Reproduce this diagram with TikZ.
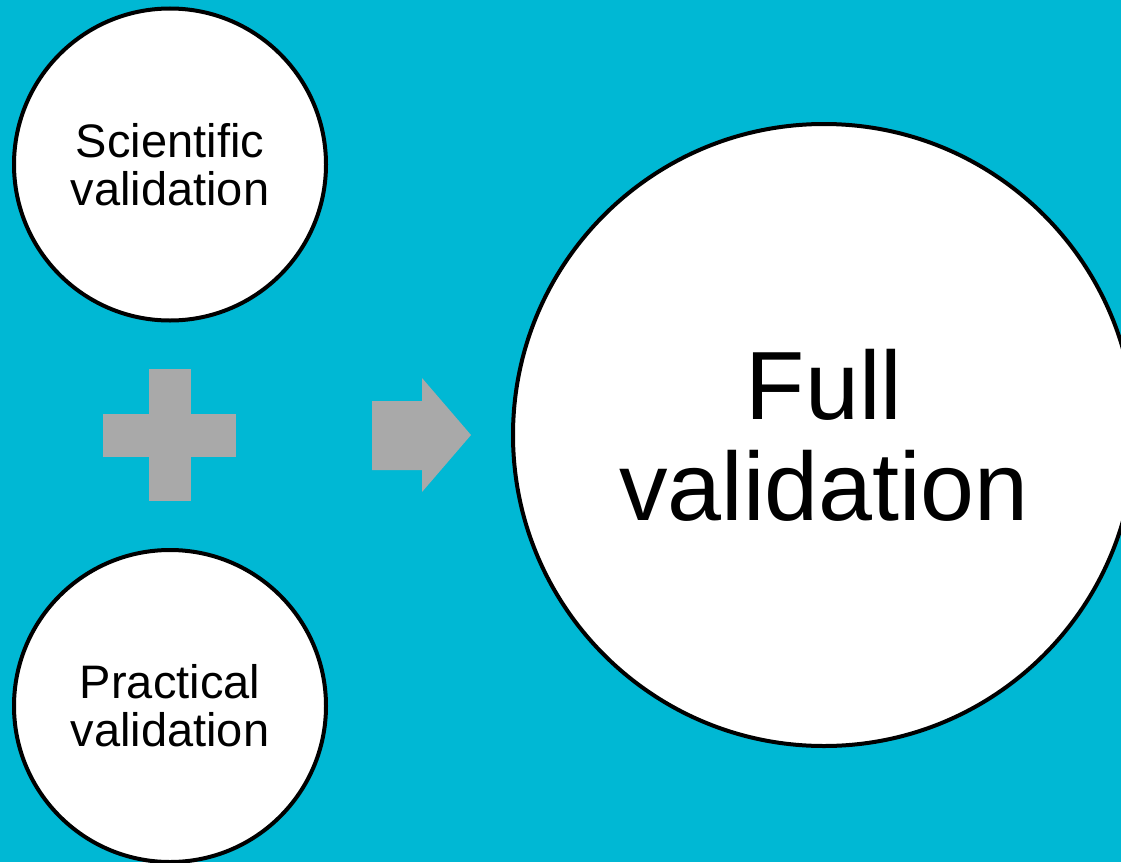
\documentclass[tikz,border=0pt]{standalone}
\usepackage{fontspec}
\setmainfont{Liberation Sans}
\definecolor{bgcyan}{RGB}{0,184,212}
\definecolor{signgray}{RGB}{169,169,169}

\begin{document}
\begin{tikzpicture}[x=1pt,y=-1pt,
    part/.style={circle, draw=black, line width=4pt, fill=white, minimum size=312pt, inner sep=0pt, align=center, font=\fontsize{47}{48}\selectfont},
    whole/.style={part, minimum size=622pt, font=\fontsize{97}{101}\selectfont}]
    \useasboundingbox (0,0) rectangle (1121,862);
    \fill[bgcyan] (0,0) rectangle (1121,862);

    \node[part] (sci) at (170,164.5) {Scientific\\validation};
    \node[part] (prac) at (170,706) {Practical\\validation};
    \node[whole] (full) at (824,435) {Full\\validation};

    \fill[signgray] (149,369) rectangle (191,501);
    \fill[signgray] (103,414) rectangle (236,457);
    \fill[signgray] (372,401) -- (422,401) -- (422,378) -- (471,435) -- (422,492) -- (422,470) -- (372,470) -- cycle;
\end{tikzpicture}
\end{document}
